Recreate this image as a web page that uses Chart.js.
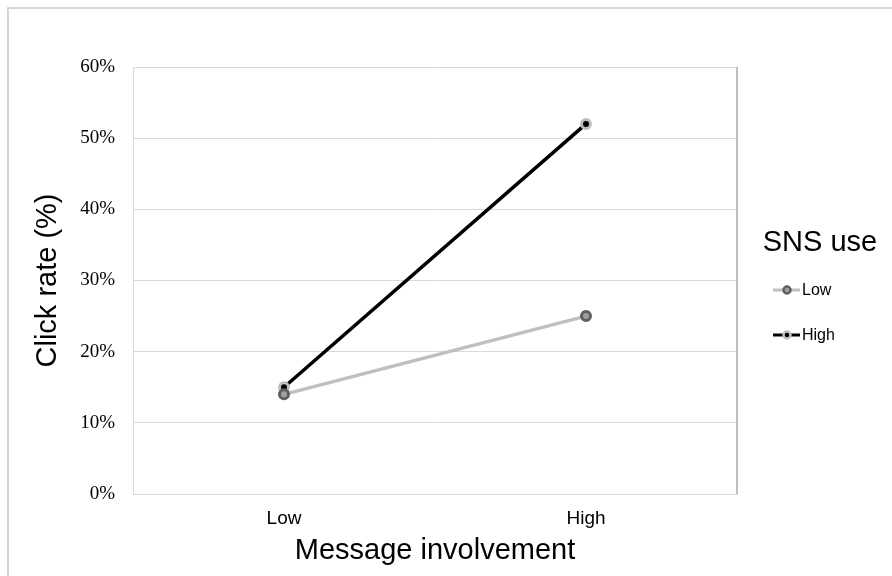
<!DOCTYPE html>
<html>
<head>
<meta charset="utf-8">
<script src="https://cdn.jsdelivr.net/npm/chart.js@4/dist/chart.umd.min.js"></script>
<style>
  html, body { margin: 0; padding: 0; background: #ffffff; }
  #wrap { position: relative; width: 892px; height: 576px; overflow: hidden; }
  #frame { position: absolute; left: 7px; top: 7px; width: 900px; height: 600px; border: 2px solid #d6d6d6; box-sizing: border-box; }
  #c { position: absolute; left: 0; top: 0; }
</style>
</head>
<body>
<div id="wrap">
  <div id="frame"></div>
  <canvas id="c" width="892" height="576"></canvas>
</div>
<script>
// ---- data ----
const categories = ["Low", "High"];
const seriesNames = ["Low", "High"];
const snsLow = [14, 25];
const snsHigh = [15, 52];
const yTickMin = 0;
const yTickMax = 60;
const yTickStep = 10;
const xTitle = "Message involvement";
const yTitle = "Click rate (%)";
const legendTitle = "SNS use";

const legendPlugin = {
  id: 'customLegend',
  afterDraw(chart) {
    const ctx = chart.ctx;
    ctx.save();
    ctx.fillStyle = '#000';
    ctx.font = '29px "Liberation Sans", Arial, sans-serif';
    ctx.textAlign = 'center';
    ctx.textBaseline = 'middle';
    ctx.fillText(legendTitle, 820, 243);
    const ys = [290, 335];
    chart.data.datasets.forEach((ds, i) => {
      const y = ys[i];
      ctx.strokeStyle = ds.borderColor;
      ctx.lineWidth = 3;
      ctx.beginPath();
      ctx.moveTo(773, y);
      ctx.lineTo(800, y);
      ctx.stroke();
      ctx.beginPath();
      ctx.arc(787, y, 3.5, 0, Math.PI * 2);
      ctx.fillStyle = ds.pointBackgroundColor;
      ctx.fill();
      ctx.lineWidth = 2.5;
      ctx.strokeStyle = ds.pointBorderColor;
      ctx.stroke();
      ctx.fillStyle = '#000';
      ctx.font = '16px "Liberation Sans", Arial, sans-serif';
      ctx.textAlign = 'left';
      ctx.fillText(ds.label, 802, y + 1);
    });
    // right edge of plot area
    const a = chart.chartArea;
    ctx.strokeStyle = '#a8a8a8';
    ctx.lineWidth = 1.5;
    ctx.beginPath();
    ctx.moveTo(a.right, a.top);
    ctx.lineTo(a.right, a.bottom);
    ctx.stroke();
    ctx.restore();
  }
};

new Chart(document.getElementById('c'), {
  type: 'line',
  data: {
    labels: categories,
    datasets: [
      {
        label: seriesNames[0],
        data: snsLow,
        borderColor: '#bfbfbf',
        borderWidth: 3.5,
        pointRadius: 4.5,
        pointBorderWidth: 3,
        pointBackgroundColor: '#a0a0a0',
        pointBorderColor: '#5f5f5f',
        tension: 0
      },
      {
        label: seriesNames[1],
        data: snsHigh,
        borderColor: '#000000',
        borderWidth: 3.5,
        pointRadius: 4.5,
        pointBorderWidth: 3,
        pointBackgroundColor: '#000000',
        pointBorderColor: '#bfbfbf',
        tension: 0
      }
    ]
  },
  options: {
    responsive: false,
    animation: false,
    layout: { padding: { left: 0, top: 67, right: 155, bottom: 0 } },
    plugins: { legend: { display: false }, tooltip: { enabled: false } },
    scales: {
      x: {
        offset: true,
        grid: { display: false, drawTicks: false },
        border: { display: true, color: '#d9d9d9', width: 1 },
        ticks: { color: '#000', padding: 13, font: { family: '"Liberation Sans", Arial, sans-serif', size: 19 } },
        title: { display: true, text: xTitle, color: '#000', padding: { top: 0, bottom: 8 }, font: { family: '"Liberation Sans", Arial, sans-serif', size: 29 } },
        afterFit(s) { s.height = 82; }
      },
      y: {
        min: yTickMin,
        max: yTickMax,
        ticks: { stepSize: yTickStep, color: '#000', padding: 18, font: { family: '"Liberation Serif", "Times New Roman", serif', size: 19 }, callback: v => v + '%' },
        grid: { color: '#d9d9d9', lineWidth: 1, drawTicks: false },
        border: { display: true, color: '#d9d9d9', width: 1 },
        title: { display: true, text: yTitle, color: '#000', padding: { top: 31, bottom: 0 }, font: { family: '"Liberation Sans", Arial, sans-serif', size: 29 } },
        afterFit(s) { s.width = 133; }
      }
    }
  },
  plugins: [legendPlugin]
});
</script>
</body>
</html>
